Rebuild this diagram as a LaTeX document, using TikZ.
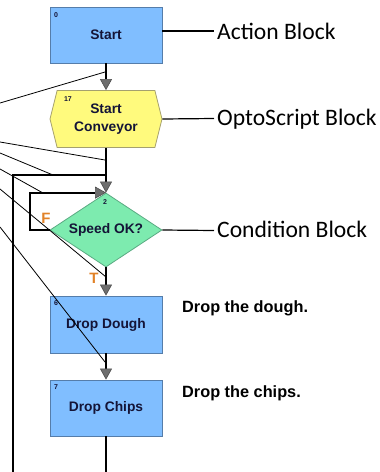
\documentclass[tikz,border=0pt]{standalone}
\usepackage{fontspec}
\setmainfont{Liberation Sans}
\newfontfamily\calloutfont{Carlito}
\usetikzlibrary{shapes.geometric,shapes.symbols,arrows.meta}
\definecolor{actfill}{RGB}{128,190,255}
\definecolor{actdraw}{RGB}{85,125,170}
\definecolor{optfill}{RGB}{255,250,125}
\definecolor{optdraw}{RGB}{165,160,110}
\definecolor{condfill}{RGB}{125,235,175}
\definecolor{conddraw}{RGB}{90,170,130}
\definecolor{navy}{RGB}{20,20,55}
\definecolor{tfcol}{RGB}{225,130,40}
\definecolor{tipgray}{RGB}{110,110,110}
\begin{document}
\begin{tikzpicture}[x=1pt,y=-1pt,
  boxtext/.style={font=\bfseries\fontsize{13.8}{18}\selectfont, text=navy, align=center},
  actionbox/.style={boxtext, draw=actdraw, fill=actfill, minimum width=112pt, minimum height=56pt, inner sep=0pt, line width=0.8pt},
  optobox/.style={boxtext, shape=signal, signal to=west and east, signal pointer angle=152, draw=optdraw, fill=optfill, minimum width=112pt, minimum height=57pt, inner sep=0pt, line width=0.8pt},
  condbox/.style={boxtext, shape=diamond, aspect=1.5, draw=conddraw, fill=condfill, minimum width=112pt, minimum height=74pt, inner sep=0pt, line width=0.8pt},
  idnum/.style={font=\bfseries\fontsize{7}{8}\selectfont, text=navy, inner sep=0pt},
  flow/.style={line width=1.8pt, black},
  flowarrow/.style={flow, -{Triangle[width=12pt,length=11pt,fill=tipgray,color=tipgray!70!black,line width=0.6pt]}},
  thin/.style={line width=0.8pt, black},
  callline/.style={line width=1.2pt, black},
  callout/.style={font=\calloutfont\fontsize{23.6}{28}\selectfont, inner sep=0pt, anchor=base west},
  note/.style={font=\bfseries\fontsize{16.3}{20}\selectfont, inner sep=0pt, anchor=base west},
  tf/.style={font=\bfseries\fontsize{15}{18}\selectfont, text=tfcol, inner sep=0pt}
]
\useasboundingbox (0,0) rectangle (380,472);

% blocks
\node[actionbox] (start) at (106,35) {Start};
\node[optobox] (conv) at (106,119) {Start\\Conveyor};
\node[condbox] (cond) at (106,230) {Speed OK?};
\node[actionbox, minimum height=57pt] (dough) at (106,324.5) {Drop Dough};
\node[actionbox] (chips) at (106,408) {Drop Chips};

% id numbers
\node[idnum] (n0) at (56,15) {0};
\node[idnum] (n17) at (68,99) {17};
\node[idnum] (n2) at (105,202) {2};
\node[idnum] (n6) at (56,303) {6};
\node[idnum] (n7) at (56,387) {7};

% coordinates
\coordinate (join) at (106,175);
\coordinate (loopbot) at (13,472);
\coordinate (chipsbot) at (106,472);
\coordinate (floop) at (30,230);

% flow connectors
\draw[flowarrow] (start.south) -- (conv.north);
\draw[flowarrow] (conv.south) -- (cond.north);
\draw[flow] (loopbot) |- (join);
\draw[flowarrow] (cond.west) -- (floop) |- (cond.north);
\draw[flowarrow] (cond.south) -- (dough.north);
\draw[flowarrow] (dough.south) -- (chips.north);
\draw[flow] (chips.south) -- (chipsbot);

% T / F labels
\node[tf] (lf) at (46,218) {F};
\node[tf] (lt) at (94,278) {T};

% diagonal lines from the left
\coordinate (e1) at (0,103);   \coordinate (f1) at (105,72);
\coordinate (e2) at (0,142);   \coordinate (f2) at (105,160);
\coordinate (e3) at (0,153);   \coordinate (f3) at (53,175);
\coordinate (e4) at (0,169);   \coordinate (f4) at (43,193);
\coordinate (e5) at (0,189);   \coordinate (f5) at (106,277);
\coordinate (e6) at (0,227);   \coordinate (f6) at (105,362);
\foreach \i in {1,...,6} \draw[thin] (e\i) -- (f\i);

% callouts
\coordinate (cA) at (214,31);
\coordinate (cB) at (214,118.5);
\coordinate (cC) at (214,230.5);
\node[callout] (lA) at (217,39.5) {Action Block};
\node[callout] (lB) at (217,125.5) {OptoScript Block};
\node[callout] (lC) at (217,237) {Condition Block};
\draw[callline] (start.east |- cA) -- (cA);
\draw[callline] (conv.east) -- (cB);
\draw[callline] (cond.east) -- (cC);

% notes
\node[note] (d1) at (182,312) {Drop the dough.};
\node[note] (d2) at (182,397) {Drop the chips.};
\end{tikzpicture}
\end{document}
